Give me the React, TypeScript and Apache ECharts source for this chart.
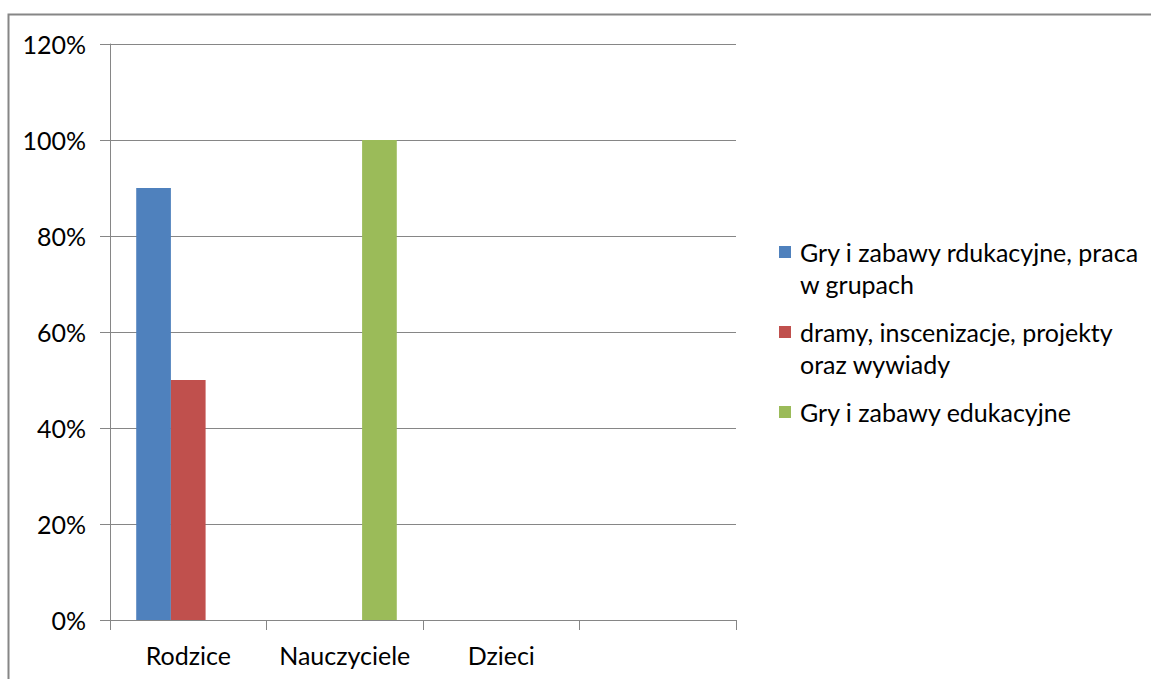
import React, { useEffect, useRef } from "react";
import * as echarts from "echarts";

const categories = ["Rodzice", "Nauczyciele", "Dzieci", ""];
const seriesNames = [
  "Gry i zabawy rdukacyjne, praca w grupach",
  "dramy, inscenizacje, projekty oraz wywiady",
  "Gry i zabawy edukacyjne",
];
const legendLabels = [
  "Gry i zabawy rdukacyjne, praca\nw grupach",
  "dramy, inscenizacje, projekty\noraz wywiady",
  "Gry i zabawy edukacyjne",
];
const blueValues = [90, null, null, null];
const redValues = [50, null, null, null];
const greenValues = [null, 100, null, null];
const colors = ["#4F81BD", "#C0504D", "#9BBB59"];
const yTicks = { min: 0, max: 120, interval: 20 };

const FONT = "Lato, 'Liberation Sans', sans-serif";
const GRAY = "#868686";

// icon aligned with the first text line (two-line item) or the single line
const ICON_TWO_LINES = "path://M0,0h12v12h-12z M0,43.95h0.05v0.05h-0.05z";
const ICON_ONE_LINE = "path://M0,0h0.05v0.05h-0.05z M0,16h12v12h-12z M0,43.95h0.05v0.05h-0.05z";
const legendTops = [236, 316, 390];

export default function App() {
  const ref = useRef<HTMLDivElement>(null);
  useEffect(() => {
    document.body.style.margin = "0";
    document.body.style.overflow = "hidden";
    const chart = echarts.init(ref.current!, null, { renderer: "svg" });
    const values = [blueValues, redValues, greenValues];
    chart.setOption({
      animation: false,
      backgroundColor: "#ffffff",
      textStyle: { fontFamily: FONT },
      graphic: [
        {
          type: "rect",
          shape: { x: 8.5, y: 14.5, width: 1200, height: 700 },
          style: { fill: "none", stroke: GRAY, lineWidth: 2 },
          silent: true,
        },
      ],
      grid: { left: 110, top: 44, width: 626, height: 576 },
      xAxis: {
        type: "category",
        data: categories,
        axisLine: { lineStyle: { color: GRAY, width: 1 } },
        axisTick: { show: true, interval: 0, length: 10, lineStyle: { color: GRAY } },
        axisLabel: { interval: 0, color: "#000", fontSize: 25, fontFamily: FONT, margin: 22 },
      },
      yAxis: {
        type: "value",
        min: yTicks.min,
        max: yTicks.max,
        interval: yTicks.interval,
        axisLine: { show: true, lineStyle: { color: GRAY, width: 1 } },
        axisTick: { show: true, length: 10, lineStyle: { color: GRAY } },
        splitLine: { show: true, lineStyle: { color: GRAY, width: 1 } },
        axisLabel: {
          color: "#000",
          fontSize: 25,
          fontFamily: FONT,
          margin: 24,
          formatter: (v: number) => v + "%",
        },
      },
      legend: seriesNames.map((n, i) => ({
        orient: "vertical",
        left: 779,
        top: legendTops[i],
        padding: 0,
        itemWidth: 12,
        itemHeight: 44,
        textStyle: { fontSize: 25, fontFamily: FONT, color: "#000", lineHeight: 32, padding: [0, 0, 0, 4] },
        formatter: (name: string) => legendLabels[seriesNames.indexOf(name)],
        data: [
          {
            name: n,
            icon: legendLabels[i].includes("\n") ? ICON_TWO_LINES : ICON_ONE_LINE,
          },
        ],
      })),
      series: seriesNames.map((name, i) => ({
        name,
        type: "bar",
        data: values[i],
        barGap: "0%",
        barCategoryGap: "33.5%",
        itemStyle: { color: colors[i] },
      })),
    });
    return () => chart.dispose();
  }, []);
  return <div ref={ref} style={{ width: 1151, height: 679 }} />;
}
